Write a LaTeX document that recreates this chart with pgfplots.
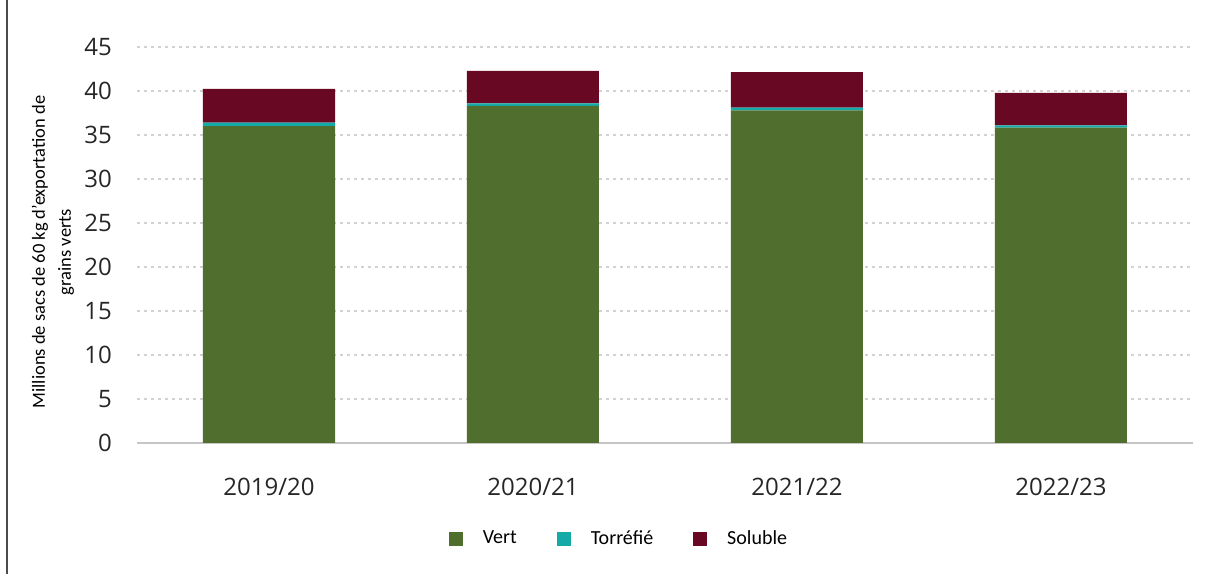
\documentclass[border=0pt]{standalone}
\usepackage{fontspec}
\setmainfont{Carlito}
\newfontfamily\tickfont{Open Sans}
\usepackage{pgfplots}
\pgfplotsset{compat=1.18}
\definecolor{cvert}{RGB}{80,110,46}
\definecolor{ctorr}{RGB}{20,170,168}
\definecolor{csol}{RGB}{104,8,35}
\begin{document}
\begin{tikzpicture}
\useasboundingbox (0,0) rectangle (1215bp,574bp);
\draw[line width=1.6bp, black!70] (7bp,0) -- (7bp,574bp);
\begin{axis}[
  at={(137bp,131bp)}, anchor=south west,
  scale only axis, width=1056bp, height=396bp,
  xmin=-0.5, xmax=3.5, ymin=0, ymax=45,
  ybar stacked, bar width=132bp, bar shift=0pt,
  axis line style={draw=none},
  xtick={0,1,2,3},
  xticklabels={2019/20,2020/21,2021/22,2022/23},
  ytick={0,5,...,45},
  major tick length=0pt,
  ymajorgrids,
  grid style={gray!35, line width=2bp, dash pattern=on 2.5bp off 4.5bp},
  extra y ticks={0},
  extra y tick labels={},
  extra y tick style={grid style={solid, gray!45, line width=1.3bp}},
  /pgf/number format/assume math mode=true,
  ticklabel style={font=\tickfont\fontsize{24bp}{28bp}\selectfont, text=black!85},
  xticklabel style={inner sep=0pt, yshift=-35bp},
  yticklabel style={inner sep=0pt, xshift=-25bp},
  legend style={at={(0.4564,-0.240)}, anchor=center, draw=none,
    legend columns=3, font=\fontsize{20bp}{24bp}\selectfont,
    /tikz/every odd column/.append style={column sep=18bp},
    /tikz/every even column/.append style={column sep=38bp}},
  legend image code/.code={\fill[#1,draw=none] (0bp,-8bp) rectangle (14bp,6bp);},
]
\addplot[fill=cvert, draw=none] coordinates {(0,36.0) (1,38.3) (2,37.8) (3,35.85)};
\addplot[fill=ctorr, draw=none] coordinates {(0,0.4) (1,0.3) (2,0.3) (3,0.25)};
\addplot[fill=csol, draw=none] coordinates {(0,3.85) (1,3.7) (2,4.05) (3,3.7)};
\legend{Vert, Torréfié, Soluble}
\end{axis}
\node[rotate=90, align=center, font=\fontsize{18.5bp}{26bp}\selectfont] at (53bp,322bp)
  {Millions de sacs de 60 kg d’exportation de\\grains verts};
\end{tikzpicture}
\end{document}
